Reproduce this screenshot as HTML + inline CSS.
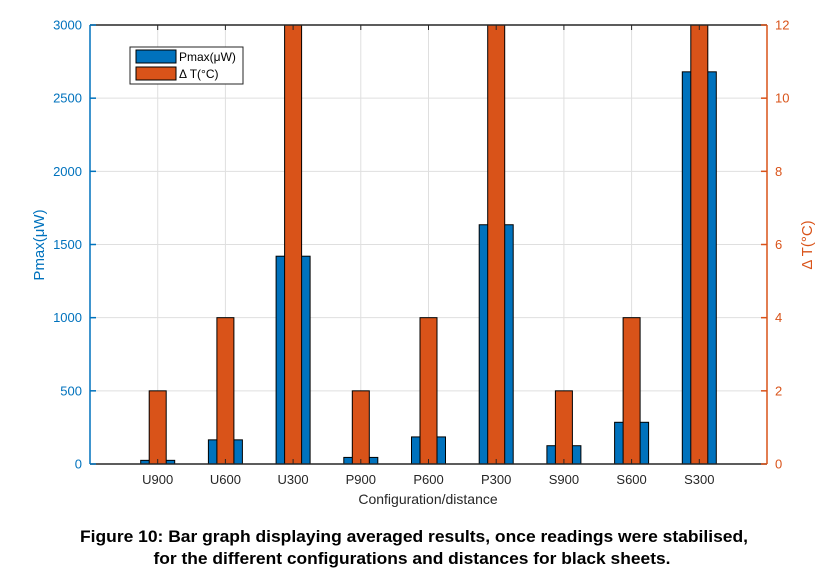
<!DOCTYPE html>
<html><head><meta charset="utf-8"><style>
body{margin:0;background:#fff;width:817px;height:580px;overflow:hidden;font-family:"Liberation Sans",Arial,sans-serif}
</style></head><body>
<svg id="chart" width="817" height="580" font-family="Liberation Sans, Arial, sans-serif"></svg>
<script>
const categories=["U900","U600","U300","P900","P600","P300","S900","S600","S300"];
const pmaxValues=[25,165,1420,45,185,1635,125,285,2680];
const deltaTValues=[2,4,14,2,4,14,2,4,14];
const leftTicks=[0,500,1000,1500,2000,2500,3000];
const rightTicks=[0,2,4,6,8,10,12];

const NS="http://www.w3.org/2000/svg";
const svg=document.getElementById('chart');
const L=90,R=767,T=25,B=464;
const xs=i=>L+(R-L)*(i+1)/10;
const yl=v=>B-(B-T)*v/3000;
const yr=v=>B-(B-T)*Math.min(v,12)/12;
function mk(tag,attrs,txt){const e=document.createElementNS(NS,tag);for(const k in attrs)e.setAttribute(k,attrs[k]);if(txt!==undefined)e.textContent=txt;svg.appendChild(e);return e;}

categories.forEach((c,i)=>{const g=mk('line',{x1:xs(i),x2:xs(i),y1:T,y2:B,stroke:'#dfdfdf','stroke-width':1});
});
leftTicks.forEach(v=>{const g=mk('line',{x1:L,x2:R,y1:yl(v),y2:yl(v),stroke:'#dfdfdf','stroke-width':1});
});

categories.forEach((c,i)=>{
 const b=mk('rect',{x:xs(i)-17,y:yl(pmaxValues[i]),width:34,height:B-yl(pmaxValues[i]),fill:'#0072bd',stroke:'#000','stroke-width':1});
 
 
 const o=mk('rect',{x:xs(i)-8.5,y:yr(deltaTValues[i]),width:17,height:B-yr(deltaTValues[i]),fill:'#d95319',stroke:'#000','stroke-width':1});
 
 
 const tk=mk('line',{x1:xs(i),x2:xs(i),y1:B,y2:B-5,stroke:'#262626'});
 
 const tk2=mk('line',{x1:xs(i),x2:xs(i),y1:T,y2:T+5,stroke:'#262626'});
 
 const t=mk('text',{x:xs(i),y:B+20,'text-anchor':'middle','font-size':13,fill:'#262626'},c);
 
});

let a;
a=mk('line',{x1:L,x2:R,y1:B,y2:B,stroke:'#262626','stroke-width':1.5});
a=mk('line',{x1:L,x2:R,y1:T,y2:T,stroke:'#262626','stroke-width':1.5});
a=mk('line',{x1:L,x2:L,y1:T,y2:B,stroke:'#0072bd','stroke-width':1.5});
a=mk('line',{x1:R,x2:R,y1:T,y2:B,stroke:'#d95319','stroke-width':1.5});
leftTicks.forEach(v=>{
 const k=mk('line',{x1:L,x2:L+6,y1:yl(v),y2:yl(v),stroke:'#0072bd','stroke-width':1.5});
 const t=mk('text',{x:L-8,y:yl(v)+4.5,'text-anchor':'end','font-size':13,fill:'#0072bd'},String(v));
});
rightTicks.forEach(v=>{
 const k=mk('line',{x1:R-6,x2:R,y1:yr(v),y2:yr(v),stroke:'#d95319','stroke-width':1.5});
 const t=mk('text',{x:R+8,y:yr(v)+4.5,'text-anchor':'start','font-size':13,fill:'#d95319'},String(v));
});
a=mk('text',{x:428,y:504,'text-anchor':'middle','font-size':14,fill:'#262626'},'Configuration/distance');
a=mk('text',{x:0,y:0,'text-anchor':'middle','font-size':15,fill:'#0072bd',transform:'translate(44,245) rotate(-90)'},'Pmax(μW)');
a=mk('text',{x:0,y:0,'text-anchor':'middle','font-size':15,fill:'#d95319',transform:'translate(812,245) rotate(-90)'},'Δ T(°C)');

a=mk('rect',{x:130,y:47,width:113,height:37,fill:'#fff',stroke:'#262626','stroke-width':1});
a=mk('rect',{x:136,y:50,width:40,height:13,fill:'#0072bd',stroke:'#000'});
a=mk('text',{x:179,y:61,'font-size':12,fill:'#000'},'Pmax(μW)');
a=mk('rect',{x:136,y:67,width:40,height:13,fill:'#d95319',stroke:'#000'});
a=mk('text',{x:179,y:78,'font-size':12,fill:'#000'},'Δ T(°C)');

a=mk('text',{x:414,y:542,'text-anchor':'middle','font-size':17,'font-weight':'bold',fill:'#000',textLength:668,lengthAdjust:'spacingAndGlyphs'},'Figure 10: Bar graph displaying averaged results, once readings were stabilised,');
a=mk('text',{x:412,y:564,'text-anchor':'middle','font-size':17,'font-weight':'bold',fill:'#000',textLength:517,lengthAdjust:'spacingAndGlyphs'},'for the different configurations and distances for black sheets.');
</script>
</body></html>
